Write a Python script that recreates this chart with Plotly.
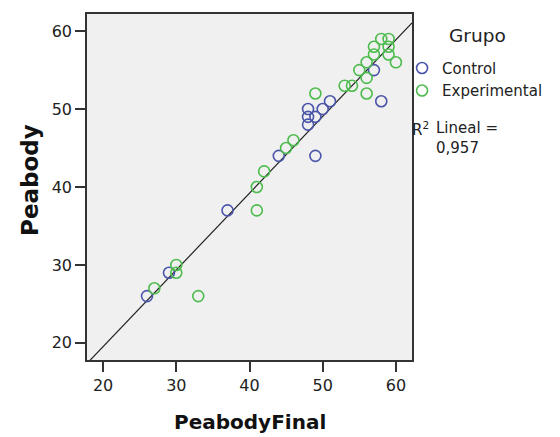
import numpy as np
import plotly.graph_objects as go

# Data
control_x = [26, 29, 37, 44, 48, 48, 48, 49, 50, 51, 49, 57, 58]
control_y = [26, 29, 37, 44, 48, 49, 50, 49, 50, 51, 44, 55, 51]

exp_x = [27, 30, 30, 33, 41, 41, 42, 45, 46, 49, 53, 54, 55, 56, 56, 56, 57, 57, 58, 59, 59, 59, 60]
exp_y = [27, 30, 29, 26, 40, 37, 42, 45, 46, 52, 53, 53, 55, 54, 56, 52, 57, 58, 59, 59, 58, 57, 56]

x_ticks = [20, 30, 40, 50, 60]
y_ticks = [20, 30, 40, 50, 60]
r2_label = "0,957"

axis_range = [17.8, 62.2]

all_x = np.array(control_x + exp_x, dtype=float)
all_y = np.array(control_y + exp_y, dtype=float)
slope, intercept = np.polyfit(all_x, all_y, 1)
line_x = np.array(axis_range)
line_y = slope * line_x + intercept

BLUE = "#4a55aa"
GREEN = "#4dbb4d"
FONT = "DejaVu Sans, Verdana, sans-serif"

fig = go.Figure()
fig.add_trace(go.Scatter(
    x=line_x, y=line_y, mode="lines",
    line=dict(color="#222222", width=1.2),
    showlegend=False, hoverinfo="skip"))
fig.add_trace(go.Scatter(
    x=control_x, y=control_y, mode="markers", name="Control",
    marker=dict(symbol="circle-open", size=11, color=BLUE, line=dict(width=1.6, color=BLUE))))
fig.add_trace(go.Scatter(
    x=exp_x, y=exp_y, mode="markers", name="Experimental",
    marker=dict(symbol="circle-open", size=11, color=GREEN, line=dict(width=1.6, color=GREEN))))

axis_common = dict(
    range=axis_range, showgrid=False, zeroline=False,
    showline=True, linecolor="#333333", linewidth=1.5, mirror=True,
    ticks="outside", ticklen=10, tickwidth=1.5, tickcolor="#333333",
    tickfont=dict(family=FONT, size=16, color="#222222"),
)

fig.update_xaxes(tickvals=x_ticks, **axis_common)
fig.update_yaxes(tickvals=y_ticks, **axis_common)

# axis titles
fig.add_annotation(
    text="<b>PeabodyFinal</b>", xref="paper", yref="paper",
    x=0.5, y=(437 - 422 - 77) / 348, xanchor="center", yanchor="middle",
    showarrow=False, font=dict(family=FONT, size=20, color="#111111"))
fig.add_annotation(
    text="<b>Peabody</b>", xref="paper", yref="paper", textangle=-90,
    x=(29 - 87) / 327, y=1 - (178.5 - 12) / 348, xanchor="center", yanchor="middle",
    showarrow=False, font=dict(family=FONT, size=23, color="#111111"))

# legend title
fig.add_annotation(
    text="Grupo", xref="paper", yref="paper", x=(480 - 87) / 327, y=1 - (34 - 12) / 348,
    xanchor="center", yanchor="middle",
    showarrow=False, font=dict(family=FONT, size=18.5, color="#222222"))

# R² fit label
fig.add_annotation(
    text="R<sup>2</sup>", xref="paper", yref="paper", x=(412 - 87) / 327, y=1 - (116 - 12) / 348,
    xanchor="left", yanchor="top", showarrow=False,
    font=dict(family=FONT, size=15, color="#222222"))
fig.add_annotation(
    text="Lineal =<br>" + r2_label, xref="paper", yref="paper",
    x=(436 - 87) / 327, y=1 - (116 - 12) / 348,
    xanchor="left", yanchor="top", showarrow=False, align="left",
    font=dict(family=FONT, size=15, color="#222222"))

fig.update_layout(
    width=560, height=437,
    margin=dict(l=87, r=146, t=12, b=77),
    paper_bgcolor="white", plot_bgcolor="#f0f0f0",
    showlegend=True,
    legend=dict(x=(404 - 87) / 327, y=0.891, xanchor="left", yanchor="top",
                xref="paper", yref="paper",
                bgcolor="rgba(0,0,0,0)", borderwidth=0,
                font=dict(family=FONT, size=15, color="#222222"),
                itemsizing="trace", tracegroupgap=0),
)

fig.write_html("out.html")
